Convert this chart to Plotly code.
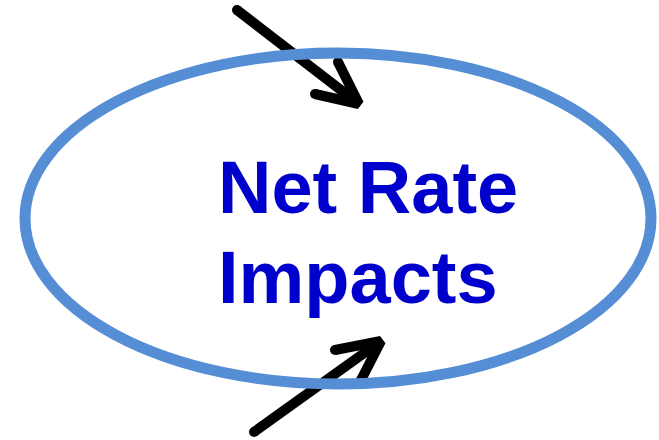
import plotly.graph_objects as go

# Diagram geometry (pixel space of the 659x440 canvas, y grows downward)
ellipse_x = [25, 651]
ellipse_y = [53, 384]

arrow_top_shaft_x = [237, 359]
arrow_top_shaft_y = [10, 104]
arrow_top_head_x = [315, 359, 338]
arrow_top_head_y = [94, 104, 62]

arrow_bot_shaft_x = [254, 381]
arrow_bot_shaft_y = [432, 341]
arrow_bot_head_x = [335, 381, 361]
arrow_bot_head_y = [350, 341, 380]

label_lines = ["Net Rate", "Impacts"]
label_x = [216, 216]
label_y = [187, 277]

ELLIPSE_COLOR = "#558ED5"
TEXT_COLOR = "#0000CC"

fig = go.Figure()

fig.add_shape(type="circle", xref="x", yref="y",
              x0=ellipse_x[0], x1=ellipse_x[1], y0=ellipse_y[0], y1=ellipse_y[1],
              line=dict(color=ELLIPSE_COLOR, width=11), fillcolor="rgba(0,0,0,0)")

for sx, sy, hx, hy in [(arrow_top_shaft_x, arrow_top_shaft_y, arrow_top_head_x, arrow_top_head_y),
                       (arrow_bot_shaft_x, arrow_bot_shaft_y, arrow_bot_head_x, arrow_bot_head_y)]:
    fig.add_trace(go.Scatter(x=sx, y=sy, mode="lines",
                             line=dict(color="black", width=10), hoverinfo="skip"))
    fig.add_trace(go.Scatter(x=hx, y=hy, mode="lines",
                             line=dict(color="black", width=10), hoverinfo="skip"))
    # round caps on the open ends
    fig.add_trace(go.Scatter(x=[sx[0], hx[0], hx[2]], y=[sy[0], hy[0], hy[2]], mode="markers",
                             marker=dict(color="black", size=10, line=dict(width=0)),
                             hoverinfo="skip"))

for txt, tx, ty in zip(label_lines, label_x, label_y):
    fig.add_annotation(x=tx, y=ty, xref="x", yref="y", text="<b>%s</b>" % txt,
                       showarrow=False, xanchor="left", yanchor="middle",
                       font=dict(family="Liberation Sans, Arial", size=74, color=TEXT_COLOR))

fig.update_layout(
    width=659, height=440,
    margin=dict(l=0, r=0, t=0, b=0),
    paper_bgcolor="white", plot_bgcolor="white",
    showlegend=False,
    xaxis=dict(range=[0, 659], visible=False, fixedrange=True),
    yaxis=dict(range=[440, 0], visible=False, fixedrange=True),
)

fig.write_html("out.html", config={"displayModeBar": False},
               post_script="document.body.style.margin='0';document.body.style.overflow='hidden';")
